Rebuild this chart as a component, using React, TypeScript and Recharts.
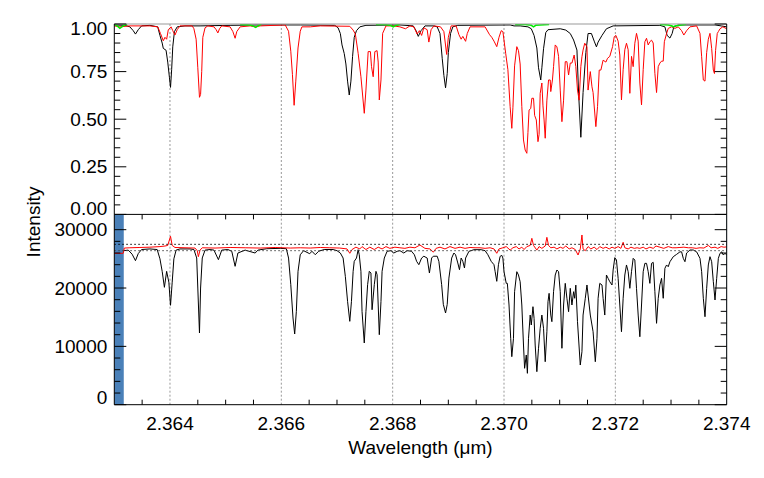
import React from 'react';
import { LineChart, Line, XAxis, YAxis, ReferenceLine, ReferenceArea } from 'recharts';

const FONT = "'Liberation Sans', Arial, Helvetica, sans-serif";
const FS = 19;

const W_MIN = 2.363;
const W_MAX = 2.374;
const majorWavelengths = [2.364, 2.366, 2.368, 2.37, 2.372, 2.374];
const gridWavelengths = [2.364, 2.366, 2.368, 2.37, 2.372];
const wavelengthTicks = [2.3635, 2.364, 2.3645, 2.365, 2.3655, 2.366, 2.3665, 2.367, 2.3675, 2.368, 2.3685, 2.369, 2.3695, 2.37, 2.3705, 2.371, 2.3715, 2.372, 2.3725, 2.373, 2.3735, 2.374];
const normTicks = [0, 0.05, 0.1, 0.15, 0.2, 0.25, 0.3, 0.35, 0.4, 0.45, 0.5, 0.55, 0.6, 0.65, 0.7, 0.75, 0.8, 0.85, 0.9, 0.95, 1.0];
const intensityTicks = [0, 2000, 4000, 6000, 8000, 10000, 12000, 14000, 16000, 18000, 20000, 22000, 24000, 26000, 28000, 30000];
const NORM_DOMAIN = [0, 1.0];
const INTENSITY_DOMAIN = [0, 32620];
const thresholdLevels = [27490, 26400];
const flaggedRanges = [[2.363, 2.36317], [2.37399, 2.374]];

// top panel: normalised spectra
const normBlack: [number, number][] = [
  [2.363, 0.995], [2.36319, 0.993], [2.36328, 0.985], [2.36334, 0.965], [2.36338, 0.947], [2.36343, 0.97], [2.36349, 0.99], [2.36364, 0.993],
  [2.36378, 0.985], [2.36382, 0.94], [2.36386, 0.9], [2.36388, 0.872], [2.36393, 0.862], [2.36396, 0.8], [2.36399, 0.72], [2.36401, 0.667],
  [2.36403, 0.76], [2.36405, 0.88], [2.36408, 0.96], [2.36413, 0.985], [2.36427, 0.99], [2.36454, 0.99], [2.36508, 0.993], [2.36562, 0.995],
  [2.36634, 0.995], [2.36696, 0.993], [2.36702, 0.98], [2.36706, 0.95], [2.36709, 0.89], [2.36713, 0.845], [2.36716, 0.79], [2.36719, 0.7],
  [2.36722, 0.627], [2.36725, 0.7], [2.36728, 0.83], [2.36731, 0.93], [2.36735, 0.965], [2.36741, 0.985], [2.36752, 0.993], [2.36813, 0.995],
  [2.36837, 0.99], [2.36842, 0.965], [2.36846, 0.935], [2.36851, 0.965], [2.36858, 0.99], [2.36874, 0.99], [2.3688, 0.985], [2.36885, 0.95],
  [2.36889, 0.82], [2.36892, 0.73], [2.36895, 0.665], [2.36898, 0.74], [2.369, 0.85], [2.36904, 0.95], [2.36908, 0.985], [2.36917, 0.993],
  [2.37011, 0.995], [2.37018, 0.99], [2.37029, 0.99], [2.37043, 0.985], [2.37049, 0.975], [2.37054, 0.94], [2.37059, 0.874], [2.37062, 0.77],
  [2.37066, 0.706], [2.37068, 0.77], [2.37071, 0.87], [2.37075, 0.955], [2.37079, 0.97], [2.37101, 0.975], [2.37111, 0.968], [2.37119, 0.95],
  [2.37125, 0.916], [2.37131, 0.863], [2.37134, 0.636], [2.37138, 0.405], [2.37142, 0.64], [2.37147, 0.85], [2.37151, 0.95], [2.37157, 0.95],
  [2.37162, 0.91], [2.37166, 0.88], [2.37169, 0.905], [2.37176, 0.94], [2.37184, 0.975], [2.37196, 0.99], [2.3728, 0.993], [2.37289, 0.985],
  [2.37293, 0.94], [2.37298, 0.926], [2.37302, 0.95], [2.37305, 0.985], [2.37313, 0.995], [2.37379, 0.995], [2.3739, 0.99], [2.374, 0.985],
];

const normRed: [number, number][] = [
  [2.363, 0.99], [2.3631, 0.985], [2.36328, 0.99], [2.36364, 0.99], [2.36378, 0.985], [2.36383, 0.95], [2.36388, 0.912], [2.36391, 0.93],
  [2.36394, 0.92], [2.36397, 0.97], [2.36402, 0.985], [2.36405, 0.965], [2.36409, 0.942], [2.36413, 0.97], [2.36418, 0.99], [2.3644, 0.99],
  [2.36443, 0.975], [2.36447, 0.92], [2.3645, 0.77], [2.36453, 0.615], [2.36455, 0.63], [2.36457, 0.75], [2.36459, 0.93], [2.36463, 0.98],
  [2.36468, 0.99], [2.36479, 0.985], [2.36483, 0.97], [2.36486, 0.953], [2.36489, 0.975], [2.36493, 0.99], [2.36508, 0.985], [2.36513, 0.96],
  [2.36517, 0.925], [2.3652, 0.96], [2.36526, 0.985], [2.36544, 0.99], [2.36553, 0.985], [2.36562, 0.99], [2.36607, 0.995], [2.36613, 0.962],
  [2.36617, 0.857], [2.3662, 0.734], [2.36623, 0.573], [2.36626, 0.7], [2.3663, 0.874], [2.36634, 0.962], [2.36637, 0.985], [2.36652, 0.985],
  [2.3667, 0.99], [2.36723, 0.988], [2.36729, 0.968], [2.36733, 0.947], [2.36738, 0.846], [2.36743, 0.723], [2.36749, 0.531], [2.36752, 0.653],
  [2.36756, 0.855], [2.3676, 0.855], [2.36762, 0.776], [2.36765, 0.723], [2.36768, 0.855], [2.36772, 0.86], [2.36774, 0.8], [2.36776, 0.601],
  [2.36779, 0.706], [2.36782, 0.951], [2.36788, 0.99], [2.36801, 0.99], [2.36813, 0.985], [2.36823, 0.975], [2.36831, 0.99], [2.36838, 0.985],
  [2.36844, 0.947], [2.36848, 0.965], [2.36852, 0.94], [2.36856, 0.98], [2.36862, 0.97], [2.36865, 0.905], [2.36869, 0.97], [2.36874, 0.99],
  [2.36886, 0.985], [2.36892, 0.96], [2.36897, 0.84], [2.369, 0.93], [2.36905, 0.99], [2.36914, 0.99], [2.36919, 0.944], [2.36923, 0.92],
  [2.36926, 0.935], [2.36931, 0.909], [2.36934, 0.95], [2.36939, 0.985], [2.36966, 0.985], [2.36974, 0.944], [2.36978, 0.93], [2.36982, 0.91],
  [2.36987, 0.881], [2.36991, 0.93], [2.36995, 0.965], [2.36998, 0.96], [2.37003, 0.846], [2.37007, 0.76], [2.37011, 0.566], [2.37014, 0.452],
  [2.37016, 0.56], [2.37019, 0.78], [2.37023, 0.881], [2.37026, 0.86], [2.37029, 0.79], [2.37032, 0.566], [2.37035, 0.391], [2.37038, 0.338],
  [2.37041, 0.321], [2.37043, 0.43], [2.37045, 0.548], [2.37048, 0.556], [2.3705, 0.61], [2.37053, 0.61], [2.37055, 0.52], [2.37058, 0.496],
  [2.37061, 0.382], [2.37063, 0.42], [2.37065, 0.636], [2.37068, 0.69], [2.3707, 0.57], [2.37072, 0.496], [2.37074, 0.4], [2.37077, 0.6],
  [2.3708, 0.706], [2.37083, 0.706], [2.37084, 0.645], [2.37087, 0.706], [2.37089, 0.776], [2.37092, 0.89], [2.37095, 0.88], [2.37098, 0.83],
  [2.37101, 0.653], [2.37104, 0.487], [2.37107, 0.6], [2.3711, 0.802], [2.37113, 0.802], [2.37116, 0.732], [2.37119, 0.795], [2.37122, 0.795],
  [2.37126, 0.837], [2.37129, 0.776], [2.37132, 0.653], [2.37135, 0.6], [2.37138, 0.776], [2.3714, 0.828], [2.37142, 0.863], [2.37145, 0.899],
  [2.37149, 0.88], [2.37151, 0.653], [2.37155, 0.75], [2.37158, 0.67], [2.3716, 0.64], [2.37165, 0.461], [2.37168, 0.566], [2.37171, 0.758],
  [2.37174, 0.758], [2.37178, 0.81], [2.37183, 0.8], [2.37186, 0.82], [2.3719, 0.83], [2.37195, 0.881], [2.37198, 0.933], [2.37201, 0.94],
  [2.37205, 0.91], [2.37208, 0.837], [2.37211, 0.601], [2.37214, 0.76], [2.37217, 0.865], [2.3722, 0.899], [2.37223, 0.865], [2.37226, 0.636],
  [2.37229, 0.83], [2.37232, 0.776], [2.37235, 0.899], [2.37238, 0.951], [2.37241, 0.91], [2.37244, 0.69], [2.37247, 0.575], [2.3725, 0.76],
  [2.37253, 0.907], [2.37256, 0.925], [2.37259, 0.89], [2.37262, 0.907], [2.37265, 0.915], [2.37268, 0.9], [2.37271, 0.741], [2.37274, 0.64],
  [2.37277, 0.776], [2.3728, 0.795], [2.37283, 0.805], [2.37286, 0.805], [2.37288, 0.907], [2.37292, 0.95], [2.37295, 0.977], [2.37301, 0.985],
  [2.37307, 0.977], [2.37313, 0.985], [2.37319, 0.965], [2.37323, 0.942], [2.37328, 0.965], [2.37334, 0.985], [2.37346, 0.99], [2.37352, 0.951],
  [2.37355, 0.828], [2.37358, 0.706], [2.37361, 0.7], [2.37364, 0.85], [2.37367, 0.92], [2.3737, 0.951], [2.37373, 0.872], [2.37376, 0.758],
  [2.37378, 0.74], [2.3738, 0.86], [2.37383, 0.95], [2.37385, 0.96], [2.37388, 0.975], [2.37393, 0.985], [2.374, 0.975],
];

const normGreen: [number, number | null][] = [
  [2.363, 0.998], [2.36305, 0.99], [2.3631, 0.977], [2.36316, 0.99], [2.36323, 0.998], [2.36324, null],
  [2.36526, 0.998], [2.36544, 0.995], [2.36549, 0.99], [2.36554, 0.982], [2.36558, 0.99], [2.36564, 0.998], [2.36565, null],
  [2.3677, 0.998], [2.36786, 0.997], [2.36797, 0.992], [2.36801, 0.985], [2.36805, 0.992], [2.36813, 0.998], [2.36814, null],
  [2.3702, 0.998], [2.37038, 0.997], [2.37049, 0.993], [2.37053, 0.985], [2.37057, 0.993], [2.37081, 0.998], [2.37082, null],
  [2.3728, 0.998], [2.37295, 0.995], [2.37302, 0.99], [2.37304, 0.985], [2.37307, 0.99], [2.37327, 0.998],
];

// bottom panel: intensity
const fluxBlack: [number, number][] = [
  [2.36317, 26400], [2.36325, 26500], [2.36332, 25800], [2.36338, 24690], [2.36343, 25900], [2.36349, 26600], [2.36364, 26700], [2.36377, 26600],
  [2.36382, 25000], [2.36386, 22860], [2.3639, 20120], [2.36394, 22860], [2.36398, 21000], [2.36401, 17040], [2.36404, 21000], [2.36407, 25000],
  [2.36411, 26500], [2.36418, 26700], [2.36436, 26700], [2.36443, 26600], [2.36448, 25150], [2.3645, 20000], [2.36453, 12290], [2.36455, 20000],
  [2.36458, 25150], [2.36463, 26500], [2.36472, 26600], [2.36479, 26500], [2.36487, 24860], [2.36493, 26500], [2.36504, 26600], [2.36511, 26300],
  [2.36517, 23720], [2.36522, 26000], [2.36535, 26500], [2.36553, 26000], [2.36558, 26500], [2.36574, 26740], [2.36598, 26800], [2.36609, 26740],
  [2.36613, 25140], [2.36617, 20570], [2.36621, 14860], [2.36624, 12120], [2.36627, 16000], [2.3663, 22860], [2.36634, 25700], [2.3664, 26400],
  [2.36651, 25880], [2.36655, 26300], [2.36661, 25710], [2.36667, 26300], [2.36677, 26600], [2.36693, 26600], [2.367, 26400], [2.36706, 26000],
  [2.36711, 25140], [2.36715, 22000], [2.36719, 17720], [2.36723, 14290], [2.36726, 17720], [2.36729, 22860], [2.36731, 24580], [2.36735, 25140],
  [2.36738, 26570], [2.3674, 25710], [2.36743, 22860], [2.36745, 16000], [2.36749, 10580], [2.36752, 16000], [2.36755, 20570], [2.36758, 22860],
  [2.36761, 22570], [2.36763, 16280], [2.36767, 20570], [2.3677, 22860], [2.36772, 22290], [2.36776, 12000], [2.36779, 17700], [2.36781, 22860],
  [2.36785, 25140], [2.3679, 26290], [2.36797, 26400], [2.36802, 26000], [2.36808, 26290], [2.36813, 26400], [2.3682, 26000], [2.36826, 26400],
  [2.36834, 26300], [2.36839, 25700], [2.36843, 24580], [2.36847, 24000], [2.36852, 25140], [2.36856, 25450], [2.36862, 25140], [2.36866, 22570],
  [2.3687, 25140], [2.36873, 25450], [2.3688, 25450], [2.36883, 24580], [2.36888, 20570], [2.36891, 17200], [2.36895, 15720], [2.36898, 17200],
  [2.36901, 21700], [2.36906, 25140], [2.3691, 26000], [2.36913, 25700], [2.36917, 24290], [2.3692, 23140], [2.36923, 25140], [2.36926, 24580],
  [2.36929, 23430], [2.36931, 25140], [2.36937, 26290], [2.36946, 26570], [2.36959, 26570], [2.36966, 26400], [2.36971, 25710], [2.36977, 24570],
  [2.36982, 24000], [2.36984, 22860], [2.36987, 21150], [2.3699, 24000], [2.36993, 25430], [2.36996, 25600], [2.36998, 25140], [2.37, 22800],
  [2.37004, 20800], [2.37006, 20800], [2.37009, 17090], [2.37012, 11380], [2.37014, 8230], [2.37017, 11380], [2.37019, 19370], [2.37023, 22800],
  [2.37026, 22230], [2.37029, 21080], [2.37032, 17090], [2.37035, 10230], [2.37037, 6240], [2.3704, 8520], [2.37042, 5380], [2.37044, 11380],
  [2.37047, 15370], [2.37049, 13660], [2.37052, 16800], [2.37054, 14810], [2.37056, 10230], [2.37059, 5660], [2.37062, 9670], [2.37065, 13100],
  [2.37068, 15370], [2.37071, 13100], [2.37074, 7370], [2.37077, 12510], [2.37079, 17650], [2.37081, 19090], [2.37084, 15370], [2.37086, 14230],
  [2.37089, 19370], [2.37092, 22230], [2.37095, 23090], [2.37098, 22800], [2.37101, 19370], [2.37104, 9670], [2.37107, 17090], [2.3711, 20800],
  [2.37113, 18240], [2.37116, 15940], [2.37119, 19950], [2.37122, 17090], [2.37125, 19370], [2.37127, 18240], [2.37129, 20500], [2.37132, 14230],
  [2.37137, 6800], [2.3714, 9080], [2.37142, 15370], [2.37146, 18240], [2.37149, 20520], [2.37151, 18800], [2.37155, 15370], [2.3716, 12510],
  [2.37164, 7370], [2.37167, 11380], [2.37169, 18240], [2.37172, 20800], [2.37176, 20520], [2.37178, 18240], [2.37181, 15370], [2.37184, 22230],
  [2.37187, 21660], [2.3719, 21080], [2.37194, 20520], [2.37196, 23090], [2.37199, 25200], [2.37202, 24800], [2.37205, 21660], [2.37208, 17090],
  [2.37211, 12510], [2.37214, 18240], [2.37217, 22230], [2.3722, 23950], [2.37223, 22800], [2.37226, 19950], [2.37229, 22800], [2.37232, 25090],
  [2.37235, 24800], [2.37238, 19950], [2.37241, 15370], [2.37244, 11650], [2.37247, 17090], [2.3725, 22800], [2.37253, 24230], [2.37256, 24230],
  [2.37259, 22800], [2.37262, 20800], [2.37265, 24230], [2.37268, 24400], [2.37271, 19370], [2.37274, 13950], [2.37277, 18240], [2.3728, 20520],
  [2.37283, 21660], [2.37286, 18240], [2.37289, 23380], [2.37292, 23950], [2.37295, 23650], [2.37298, 24500], [2.37304, 25370], [2.3731, 25770],
  [2.37316, 26200], [2.37319, 26200], [2.37322, 25090], [2.37325, 24510], [2.37328, 26000], [2.37334, 26520], [2.3734, 26520], [2.37346, 26200],
  [2.37352, 25090], [2.37355, 22800], [2.37358, 18240], [2.37361, 15080], [2.37364, 19950], [2.37367, 23950], [2.3737, 25370], [2.37373, 24510],
  [2.37376, 21080], [2.37379, 17950], [2.37382, 21660], [2.37385, 25090], [2.37388, 25950], [2.37391, 26200], [2.37394, 25660], [2.37397, 25950],
  [2.374, 25660],
];

const fluxRed: [number, number][] = [
  [2.363, 25950], [2.36316, 25950], [2.36318, 26850], [2.36328, 26900], [2.36346, 26950], [2.36364, 27000], [2.36382, 27100], [2.36391, 27200],
  [2.36396, 27300], [2.36401, 28860], [2.36404, 27300], [2.36409, 26950], [2.36427, 26900], [2.36445, 26850], [2.36449, 26400], [2.36451, 25370],
  [2.36454, 26500], [2.36458, 26900], [2.36481, 26850], [2.36508, 26950], [2.36535, 26900], [2.36562, 26850], [2.36589, 26950], [2.36616, 26850],
  [2.36634, 26900], [2.36652, 26850], [2.3667, 26950], [2.36687, 26900], [2.36705, 26850], [2.36718, 26700], [2.36723, 25950], [2.36727, 26600],
  [2.36734, 27000], [2.36741, 26700], [2.36745, 27100], [2.36752, 26600], [2.36759, 27000], [2.36767, 26600], [2.36774, 27000], [2.36781, 26700],
  [2.36788, 27100], [2.36795, 26800], [2.36804, 27000], [2.36813, 26900], [2.36822, 26800], [2.36831, 27000], [2.3684, 26900], [2.36849, 27370],
  [2.36858, 26800], [2.36867, 26700], [2.36873, 26150], [2.36878, 26800], [2.36885, 27000], [2.36894, 26700], [2.36903, 27100], [2.36912, 26800],
  [2.36921, 27000], [2.3693, 26800], [2.36939, 26950], [2.36948, 26900], [2.36957, 26900], [2.36966, 26800], [2.36975, 26900], [2.36982, 26700],
  [2.36987, 25950], [2.36991, 26700], [2.36998, 26900], [2.37004, 27100], [2.37011, 26500], [2.37016, 26900], [2.37022, 27100], [2.37027, 26700],
  [2.37032, 27000], [2.37036, 26600], [2.37041, 27100], [2.37047, 27300], [2.3705, 28520], [2.37053, 27300], [2.37059, 26500], [2.37063, 27100],
  [2.37068, 26800], [2.37074, 27200], [2.37077, 28690], [2.3708, 27300], [2.37084, 26900], [2.3709, 27000], [2.37095, 26700], [2.37101, 27000],
  [2.37106, 26800], [2.37111, 27200], [2.37117, 26700], [2.37122, 26900], [2.37128, 26600], [2.37133, 25660], [2.37137, 26700], [2.3714, 29090],
  [2.37142, 26700], [2.37146, 26400], [2.37151, 27100], [2.37156, 26700], [2.37162, 27000], [2.37167, 26600], [2.37172, 27100], [2.37178, 26800],
  [2.37183, 27000], [2.37189, 26700], [2.37194, 27000], [2.37199, 26800], [2.37205, 27100], [2.3721, 26800], [2.37214, 27840], [2.37217, 26900],
  [2.37223, 26700], [2.37228, 27000], [2.37234, 26800], [2.37239, 26900], [2.37244, 26800], [2.3725, 27000], [2.37255, 26700], [2.37262, 27000],
  [2.37268, 26800], [2.37273, 27200], [2.3728, 27000], [2.37287, 26800], [2.37295, 27100], [2.37302, 26900], [2.37309, 26900], [2.37316, 26950],
  [2.37323, 27000], [2.37331, 26900], [2.37338, 26900], [2.37345, 26800], [2.37352, 26900], [2.37359, 26850], [2.37367, 27300], [2.37372, 26900],
  [2.37379, 27000], [2.37384, 26800], [2.3739, 27100], [2.37395, 27000], [2.374, 27050],
];

const toRows = (s: [number, number | null][]) => s.map(([w, v]) => ({ w, v }));

const isMultiple = (v: number, step: number) => Math.abs(v / step - Math.round(v / step)) < 1e-6;
const isMajorW = (v: number) => majorWavelengths.some((m) => Math.abs(m - v) < 1e-7);

const textStyle = { fontSize: FS, fontFamily: FONT, fill: '#000' };

const makeLeftTick = (majorStep: number, fmt: (v: number) => string, topVal: number, topShift: number, botShift: number) => (p: any) => {
  const v = p.payload.value;
  const major = isMultiple(v, majorStep);
  const len = major ? 12 : 6;
  let dy = 0;
  if (v === topVal) dy = topShift;
  if (v === 0) dy = botShift;
  return (
    <g>
      <line x1={p.x} y1={p.y} x2={p.x + len} y2={p.y} stroke="#000" strokeWidth={1} />
      {major && (
        <text x={p.x - 7} y={p.y + dy} textAnchor="end" dominantBaseline="central" style={textStyle}>
          {fmt(v)}
        </text>
      )}
    </g>
  );
};

const makeRightTick = (majorStep: number) => (p: any) => {
  const v = p.payload.value;
  const len = isMultiple(v, majorStep) ? 12 : 6;
  return <line x1={p.x} y1={p.y} x2={p.x - len} y2={p.y} stroke="#000" strokeWidth={1} />;
};

const bottomXTick = (p: any) => {
  const v = p.payload.value;
  const major = isMajorW(v);
  return (
    <g>
      {!major && <line x1={p.x} y1={p.y} x2={p.x} y2={p.y - 5} stroke="#000" strokeWidth={1} />}
      {major && (
        <text x={p.x} y={p.y + 19} textAnchor="middle" dominantBaseline="central" style={textStyle}>
          {v.toFixed(3)}
        </text>
      )}
    </g>
  );
};

const topXTick = (p: any) => {
  const v = p.payload.value;
  if (isMajorW(v)) return <g />;
  return <line x1={p.x} y1={p.y} x2={p.x} y2={p.y + 5} stroke="#000" strokeWidth={1} />;
};

const normLeftTick = makeLeftTick(0.25, (v) => v.toFixed(2), 1, 4, -6);
const normRightTick = makeRightTick(0.25);
const fluxLeftTick = makeLeftTick(10000, (v) => String(v), 30000, 0, -7);
const fluxRightTick = makeRightTick(10000);

export default function App() {
  return (
    <div style={{ position: 'absolute', left: 0, top: 0, width: 764, height: 478, background: '#fff', overflow: 'hidden' }}>
      <svg width={764} height={478} style={{ position: 'absolute', left: 0, top: 0 }}>
        <text x={33} y={222} transform="rotate(-90 33 222)" textAnchor="middle" dominantBaseline="central" style={textStyle}>
          Intensity
        </text>
        <text x={420.5} y={447} textAnchor="middle" dominantBaseline="central" style={textStyle}>
          Wavelength (μm)
        </text>
      </svg>

      <div style={{ position: 'absolute', left: 0, top: 0 }}>
        <LineChart width={764} height={228} margin={{ top: 14, right: 7.3, bottom: 13.6, left: 54.3 }}>
          <XAxis xAxisId="t" orientation="top" type="number" dataKey="w" domain={[W_MIN, W_MAX]} allowDataOverflow height={10}
            tick={false} tickLine={false} axisLine={{ stroke: '#999', strokeWidth: 1 }} />
          <YAxis yAxisId="l" orientation="left" type="number" domain={NORM_DOMAIN} allowDataOverflow width={60} ticks={normTicks}
            interval={0} tickSize={0} tickMargin={0} tickLine={false} tick={normLeftTick} axisLine={{ stroke: '#000', strokeWidth: 1 }} />
          <YAxis yAxisId="r" orientation="right" type="number" domain={NORM_DOMAIN} allowDataOverflow width={30} ticks={normTicks}
            interval={0} tickSize={0} tickMargin={0} tickLine={false} tick={normRightTick} axisLine={{ stroke: '#000', strokeWidth: 1 }} />
          {gridWavelengths.map((g) => (
            <ReferenceLine key={'gt' + g} xAxisId="t" yAxisId="l" x={g} stroke="#999" strokeDasharray="2 2" strokeWidth={1} />
          ))}
          <Line xAxisId="t" yAxisId="l" data={toRows(normBlack)} dataKey="v" type="linear" stroke="#000" strokeWidth={1} dot={false} isAnimationActive={false} />
          <Line xAxisId="t" yAxisId="l" data={toRows(normRed)} dataKey="v" type="linear" stroke="#ff0000" strokeWidth={1} dot={false} isAnimationActive={false} />
          <Line xAxisId="t" yAxisId="l" data={toRows(normGreen)} dataKey="v" type="linear" stroke="#00ee00" strokeWidth={1.5} dot={false} connectNulls={false} isAnimationActive={false} />
        </LineChart>
      </div>

      <div style={{ position: 'absolute', left: 0, top: 190 }}>
        <LineChart width={764} height={288} margin={{ top: 14.4, right: 7.3, bottom: 33.3, left: 54.3 }}>
          <XAxis xAxisId="t" orientation="top" type="number" dataKey="w" domain={[W_MIN, W_MAX]} allowDataOverflow height={10}
            ticks={wavelengthTicks} interval={0} tickSize={0} tickMargin={0} tickLine={false} tick={topXTick} axisLine={{ stroke: '#000', strokeWidth: 1 }} />
          <XAxis xAxisId="b" orientation="bottom" type="number" dataKey="w" domain={[W_MIN, W_MAX]} allowDataOverflow height={40}
            ticks={wavelengthTicks} interval={0} tickSize={0} tickMargin={0} tickLine={false} tick={bottomXTick} axisLine={{ stroke: '#000', strokeWidth: 1 }} />
          <YAxis yAxisId="l" orientation="left" type="number" domain={INTENSITY_DOMAIN} allowDataOverflow width={60} ticks={intensityTicks}
            interval={0} tickSize={0} tickMargin={0} tickLine={false} tick={fluxLeftTick} axisLine={{ stroke: '#000', strokeWidth: 1 }} />
          <YAxis yAxisId="r" orientation="right" type="number" domain={INTENSITY_DOMAIN} allowDataOverflow width={30} ticks={intensityTicks}
            interval={0} tickSize={0} tickMargin={0} tickLine={false} tick={fluxRightTick} axisLine={{ stroke: '#000', strokeWidth: 1 }} />
          {flaggedRanges.map(([a, b], i) => (
            <ReferenceArea key={'fa' + i} xAxisId="b" yAxisId="l" x1={a} x2={b} fill={i === 0 ? '#4a80b8' : '#8fc4ea'} fillOpacity={1} stroke="none" />
          ))}
          {gridWavelengths.map((g) => (
            <ReferenceLine key={'gb' + g} xAxisId="b" yAxisId="l" x={g} stroke="#999" strokeDasharray="2 2" strokeWidth={1} />
          ))}
          <Line xAxisId="b" yAxisId="l" data={toRows(fluxBlack)} dataKey="v" type="linear" stroke="#000" strokeWidth={1} dot={false} isAnimationActive={false} />
          <Line xAxisId="b" yAxisId="l" data={toRows(fluxRed)} dataKey="v" type="linear" stroke="#ff0000" strokeWidth={1} dot={false} isAnimationActive={false} />
          {thresholdLevels.map((t, i) => (
            <ReferenceLine key={'th' + i} xAxisId="b" yAxisId="l" y={t} stroke={i === 0 ? '#000' : '#444'} strokeDasharray="1.5 2.5" strokeWidth={1} />
          ))}
        </LineChart>
      </div>
    </div>
  );
}
